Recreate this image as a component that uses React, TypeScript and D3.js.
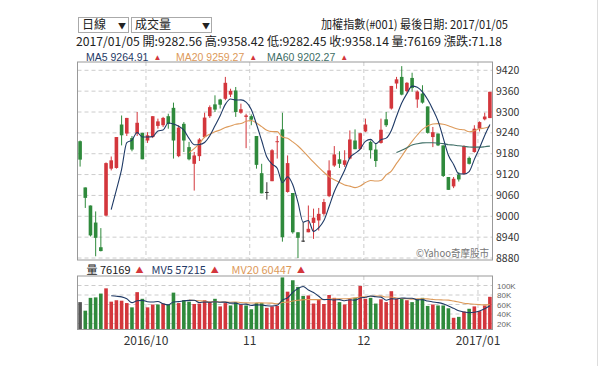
import React from 'react'
import * as d3 from 'd3'

// daily candles, 2016/09 .. 2017/01/05 (TAIEX)
const opens = [9216, 9083, 9031, 8982, 8911, 9002, 9137, 9139, 9264, 9238, 9225, 9238, 9240,
  9218, 9228, 9260, 9262, 9288, 9312, 9173, 9266, 9199, 9151, 9173, 9228, 9288, 9322, 9336, 9338, 9350, 9362, 9298, 9286,
  9288, 9231, 9124, 9070, 9101, 9214, 9250, 9070, 9067, 8954, 8930, 8954, 8981, 8988, 9007, 9058, 9146, 9164, 9148, 9166, 9218, 9194,
  9244, 9214, 9192, 9211, 9279, 9310, 9382, 9401, 9360, 9398, 9336, 9353, 9316, 9228, 9238, 9204, 9113, 9086, 9120, 9122, 9168, 9185,
  9252, 9279, 9282.56]
const highs = [9218, 9083, 9031, 9014, 8966, 9155, 9172, 9228, 9290, 9283, 9231, 9300, 9240,
  9242, 9288, 9281, 9286, 9295, 9327, 9262, 9271, 9214, 9185, 9225, 9298, 9319, 9348, 9338, 9401, 9367, 9372, 9324, 9295,
  9293, 9231, 9151, 9098, 9193, 9231, 9298, 9175, 9067, 8954, 8983, 9031, 9022, 9024, 9050, 9161, 9202, 9187, 9190, 9247, 9250, 9240,
  9281, 9218, 9209, 9281, 9300, 9375, 9401, 9432, 9386, 9413, 9362, 9377, 9316, 9257, 9238, 9204, 9113, 9113, 9127, 9204, 9172, 9262,
  9273, 9298, 9358.42]
const lows = [9143, 9024, 8942, 8885, 8899, 9000, 9132, 9137, 9204, 9231, 9187, 9231, 9164,
  9211, 9225, 9252, 9257, 9252, 9166, 9170, 9185, 9161, 9074, 9159, 9225, 9283, 9300, 9310, 9334, 9343, 9286, 9295, 9196,
  9262, 9137, 9066, 9048, 9101, 9166, 8927, 9068, 8950, 8880, 8926, 8954, 8935, 8959, 9002, 9055, 9142, 9139, 9142, 9164, 9193, 9192,
  9242, 9166, 9142, 9209, 9257, 9307, 9367, 9348, 9356, 9358, 9312, 9324, 9238, 9199, 9202, 9113, 9076, 9081, 9100, 9120, 9149, 9183,
  9244, 9276, 9282.45]
const closes = [9163, 9053, 8945, 8938, 8900, 9153, 9161, 9228, 9233, 9283, 9192, 9269, 9164,
  9233, 9288, 9273, 9283, 9266, 9218, 9255, 9218, 9164, 9175, 9221, 9284, 9314, 9307, 9321, 9384, 9361, 9300, 9308, 9290,
  9278, 9148, 9066, 9070, 9190, 9216, 8940, 9153, 8954, 8938, 8930, 8964, 8996, 9007, 9041, 9132, 9178, 9151, 9161, 9221, 9193, 9239,
  9264, 9190, 9159, 9249, 9262, 9375, 9394, 9350, 9384, 9369, 9359, 9327, 9240, 9242, 9204, 9116, 9076, 9108, 9106, 9202, 9151, 9252,
  9271, 9287, 9358.14]
const volumes = [65000, 47000, 74000, 75000, 83000, 94000, 66000, 69000, 68000, 63000, 54000, 86000, 72000,
  54000, 60000, 60000, 62000, 60000, 85000, 63000, 69000, 66000, 61000, 62000, 69000, 65000, 72000, 56000, 63000, 58000, 65000, 60000, 58000,
  50000, 63000, 63000, 53000, 56000, 57000, 117000, 87000, 111000, 97000, 78000, 79000, 62000, 71000, 61000, 80000, 74000, 65000, 60000, 71000, 74000, 99000,
  72000, 74000, 62000, 71000, 65000, 88000, 72000, 72000, 69000, 65000, 71000, 74000, 57000, 60000, 58000, 58000, 52000, 32000, 34000, 45000, 51000, 56000,
  46000, 58000, 76169]

const priceTicks = [8880, 8940, 9000, 9060, 9120, 9180, 9240, 9300, 9360, 9420]
const volumeTicks = [20000, 40000, 60000, 80000, 100000]
const volumeTickLabels = ['20K', '40K', '60K', '80K', '100K']
const monthStarts = [13, 33, 55, 77]
const monthLabels = ['2016/10', '11', '12', '2017/01']

const FONT = "'Noto Sans CJK TC', 'Noto Sans', sans-serif"
const LATIN = "'Liberation Sans', Arial, sans-serif"
const RED = '#d3363c'
const GREEN = '#2f8a3c'
const MA5C = '#1f3a66'
const MA20C = '#dd9a5a'
const MA60C = '#3e6e66'

const movingAvg = (vals: number[], n: number) =>
  vals.map((_, i) => (i < n + 1 ? null : d3.mean(vals.slice(i - n + 1, i + 1)) as number))

// legend entry: label + red up-triangle in one text node
const Legend = ({ x, y, color, label, font = FONT, size = 11 }:
  { x: number, y: number, color: string, label: string, font?: string, size?: number }) => (
  <text x={x} y={y} fontSize={size} fill={color} fontFamily={font}>
    {label}
    <tspan dx={5} fontSize={8} fill={RED} dy={-0.5}>▲</tspan>
  </text>
)

const App = () => {
  const left = 77.5, right = 492.5
  const pTop = 62, pBottom = 260
  const vTop = 276, vBottom = 329.5

  const x = d3.scaleLinear().domain([-0.5, closes.length - 0.5]).range([left, right])
  const y = d3.scaleLinear().domain([8880, 9420]).range([258, 70.3])
  const yv = d3.scaleLinear().domain([0, 100000]).range([333, 285.5])
  const bw = 3.6

  const ma5 = movingAvg(closes, 5)
  const ma20 = movingAvg(closes, 20)
  const ma60 = movingAvg(closes, 60)
  const mv5 = movingAvg(volumes, 5)
  const mv20 = movingAvg(volumes, 20)

  const line = (sy: d3.ScaleLinear<number, number>) =>
    d3.line<number | null>()
      .defined(d => d != null)
      .x((_, i) => x(i))
      .y(d => sy(d as number))
      .curve(d3.curveMonotoneX)

  const gridX = monthStarts.map(i => x(i - 0.3))

  return (
    <svg width={600} height={366} style={{ position: 'absolute', left: 0, top: 0, background: '#fff' }}
      fontFamily={FONT}>
      <defs>
        <clipPath id="pclip"><rect x={left} y={pTop} width={right - left} height={pBottom - pTop} /></clipPath>
        <clipPath id="vclip"><rect x={left} y={vTop} width={right - left} height={vBottom - vTop} /></clipPath>
      </defs>
      <rect x={0} y={0} width={600} height={366} fill="#fff" />
      <line x1={597.5} x2={597.5} y1={0} y2={366} stroke="#ddd" />

      {/* selectors */}
      <rect x={78.5} y={17.5} width={50} height={15} fill="#fff" stroke="#aaa" />
      <text x={82} y={29} fontSize={12} fill="#222">日線</text>
      <text x={118} y={28.5} fontSize={8} fill="#222">▼</text>
      <rect x={131.5} y={17.5} width={80} height={15} fill="#fff" stroke="#aaa" />
      <text x={135} y={29} fontSize={12} fill="#222">成交量</text>
      <text x={202} y={28.5} fontSize={8} fill="#222">▼</text>

      <text x={321} y={29} fontSize={12} fill="#222" textLength={187} lengthAdjust="spacingAndGlyphs">
        加權指數(#001)  最後日期: 2017/01/05
      </text>
      <text x={76} y={46} fontSize={12} fill="#222" textLength={426} lengthAdjust="spacingAndGlyphs">
        2017/01/05 開:9282.56 高:9358.42 低:9282.45 收:9358.14 量:76169 漲跌:71.18
      </text>

      {/* MA legend */}
      <Legend x={86} y={60.5} color={MA5C} label="MA5 9264.91" font={LATIN} size={10.5} />
      <Legend x={176} y={60.5} color={MA20C} label="MA20 9259.27" font={LATIN} size={10.5} />
      <Legend x={267} y={60.5} color={MA60C} label="MA60 9202.27" font={LATIN} size={10.5} />

      {/* grid */}
      {priceTicks.map(t => (
        <line key={t} x1={left} x2={right} y1={y(t)} y2={y(t)} stroke="#ccc" strokeDasharray="4,3" />
      ))}
      {gridX.map((gx, i) => (
        <g key={i}>
          <line x1={gx} x2={gx} y1={pTop} y2={pBottom} stroke="#ccc" strokeDasharray="4,3" />
          <line x1={gx} x2={gx} y1={vTop} y2={vBottom} stroke="#ccc" strokeDasharray="4,3" />
        </g>
      ))}
      {volumeTicks.map(t => (
        <line key={t} x1={left} x2={right} y1={yv(t)} y2={yv(t)} stroke="#ccc" strokeDasharray="4,3" />
      ))}

      <text x={416} y={257} fontSize={10.5} fill="#777" textLength={73} lengthAdjust="spacingAndGlyphs">
        ©Yahoo奇摩股市
      </text>

      {/* candles */}
      <g clipPath="url(#pclip)">
        {closes.map((c, i) => {
          const o = opens[i]
          const col = c > o ? RED : c < o ? GREEN : '#333'
          const top = y(Math.max(o, c)), bot = y(Math.min(o, c))
          return (
            <g key={i}>
              <line x1={x(i)} x2={x(i)} y1={y(highs[i])} y2={y(lows[i])} stroke={col} strokeWidth={1} />
              <rect x={x(i) - bw / 2} y={top} width={bw} height={Math.max(1, bot - top)} fill={col} />
            </g>
          )
        })}
        <path d={line(y)(ma20) || ''} fill="none" stroke={MA20C} strokeWidth={1.1} />
        <path d={line(y)(ma60) || ''} fill="none" stroke={MA60C} strokeWidth={1.1} />
        <path d={line(y)(ma5) || ''} fill="none" stroke={MA5C} strokeWidth={1.1} />
      </g>
      <rect x={left} y={pTop} width={right - left} height={pBottom - pTop} fill="none" stroke="#999" />

      {priceTicks.map(t => (
        <text key={t} x={496} y={y(t) + 3.5} fontSize={10.5} fill="#333">{t}</text>
      ))}

      {/* volume legend */}
      <Legend x={86.5} y={273.5} color="#222" label="量 76169" />
      <Legend x={151.5} y={273.5} color={MA5C} label="MV5 57215" />
      <Legend x={231.5} y={273.5} color={MA20C} label="MV20 60447" />

      {/* volume bars */}
      <g clipPath="url(#vclip)">
        {volumes.map((v, i) => {
          const col = i === 0 ? '#555' : closes[i] >= closes[i - 1] ? RED : GREEN
          return <rect key={i} x={x(i) - bw / 2} y={yv(v)} width={bw} height={yv(0) - yv(v)} fill={col} />
        })}
        <path d={line(yv)(mv20) || ''} fill="none" stroke={MA20C} strokeWidth={1.1} />
        <path d={line(yv)(mv5) || ''} fill="none" stroke={MA5C} strokeWidth={1.1} />
      </g>
      <rect x={left} y={vTop} width={right - left} height={vBottom - vTop} fill="none" stroke="#999" />

      {volumeTicks.map((t, i) => (
        <text key={t} x={497} y={yv(t) + 3} fontSize={8} fontFamily={LATIN} fill="#666">{volumeTickLabels[i]}</text>
      ))}

      {monthLabels.map((m, i) => (
        <text key={m} x={gridX[i]} y={345} fontSize={12} fill="#333" textAnchor="middle">{m}</text>
      ))}
    </svg>
  )
}

export default App
